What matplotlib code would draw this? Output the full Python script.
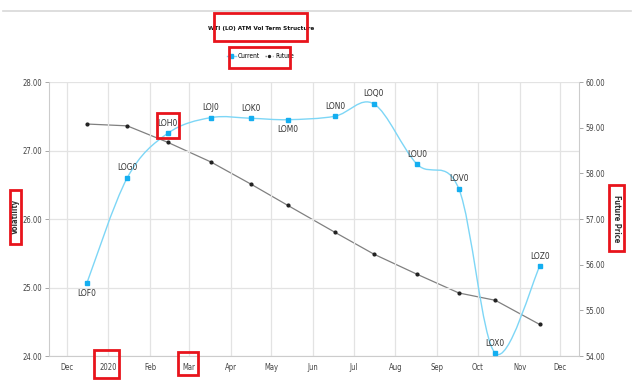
import numpy as np
import matplotlib
matplotlib.use("Agg")
import matplotlib.pyplot as plt
import matplotlib.dates as mdates
from matplotlib.path import Path
from matplotlib.patches import PathPatch, Rectangle
from matplotlib.lines import Line2D
import datetime as dt

# ---------------------------------------------------------
# Data
# ---------------------------------------------------------
contracts = ["LOF0", "LOG0", "LOH0", "LOJ0", "LOK0", "LOM0",
             "LON0", "LOQ0", "LOU0", "LOV0", "LOX0", "LOZ0"]
dates = ["2019-12-16", "2020-01-15", "2020-02-14", "2020-03-17",
         "2020-04-16", "2020-05-13", "2020-06-17", "2020-07-16",
         "2020-08-17", "2020-09-17", "2020-10-14", "2020-11-16"]
current_vol = [25.06, 26.60, 27.25, 27.48, 27.47, 27.45,
               27.50, 27.68, 26.80, 26.44, 24.04, 25.31]
future_price = [59.08, 59.04, 58.68, 58.25, 57.76, 57.30,
                56.71, 56.23, 55.79, 55.38, 55.22, 54.69]
label_below = ["LOF0", "LOM0"]

vol_ticks = [24, 25, 26, 27, 28]
price_ticks = [54, 55, 56, 57, 58, 59, 60]

plt.rcParams['font.family'] = ['DejaVu Sans']
plt.rcParams['font.stretch'] = 'condensed'

x = mdates.date2num([dt.datetime.strptime(d, "%Y-%m-%d") for d in dates])

fig = plt.figure(figsize=(6.34, 3.87), dpi=100)
ax = fig.add_axes([0.0773, 0.0801, 0.8357, 0.708])
ax2 = ax.twinx()

# ---------------------------------------------------------
# Future price (right axis)
# ---------------------------------------------------------
ax2.plot(x, future_price, color="#808080", lw=0.9, zorder=2)
ax2.plot(x, future_price, ls="none", marker="o", ms=2, color="#222222", zorder=3)
ax2.set_ylim(54, 60)
ax2.set_yticks(price_ticks)
ax2.set_yticklabels(["%.2f" % v for v in price_ticks])

# ---------------------------------------------------------
# Current vol (left axis), smooth Catmull-Rom curve
# ---------------------------------------------------------
ax.set_zorder(ax2.get_zorder() + 1)
ax.patch.set_visible(False)
pts = np.column_stack([x, current_vol])
ext = np.vstack([pts[0], pts, pts[-1]])
verts = [tuple(pts[0])]
codes = [Path.MOVETO]
for i in range(1, len(ext) - 2):
    p0, p1, p2, p3 = ext[i - 1], ext[i], ext[i + 1], ext[i + 2]
    c1 = p1 + (p2 - p0) / 6.0
    c2 = p2 - (p3 - p1) / 6.0
    verts += [tuple(c1), tuple(c2), tuple(p2)]
    codes += [Path.CURVE4] * 3
ax.add_patch(PathPatch(Path(verts, codes), facecolor="none",
                       edgecolor="#7dd6f6", lw=1.0, zorder=3))
ax.plot(x, current_vol, ls="none", marker="s", ms=3.2, color="#14aef0", zorder=4)

for xi, yi, name in zip(x, current_vol, contracts):
    if name in label_below:
        ax.annotate(name, (xi, yi), xytext=(0, -4), textcoords="offset points",
                    ha="center", va="top", fontsize=6, color="#333333")
    else:
        ax.annotate(name, (xi, yi), xytext=(0, 4), textcoords="offset points",
                    ha="center", va="bottom", fontsize=6, color="#333333")

ax.set_ylim(24, 28)
ax.set_yticks(vol_ticks)
ax.set_yticklabels(["%.2f" % v for v in vol_ticks])
ax.set_xlim(mdates.date2num(dt.datetime(2019, 11, 18)),
            mdates.date2num(dt.datetime(2020, 12, 15)))
ax.xaxis.set_major_locator(mdates.MonthLocator())
ax.xaxis.set_major_formatter(mdates.ConciseDateFormatter(ax.xaxis.get_major_locator(),
                                                         formats=['%Y', '%b', '%d', '%H:%M', '%H:%M', '%S.%f']))
ax.xaxis.get_offset_text().set_visible(False)

ax.grid(True, color="#e3e3e3", lw=0.9)
ax.set_axisbelow(True)
for a in (ax, ax2):
    for s in a.spines.values():
        s.set_visible(False)
    a.tick_params(labelsize=5.5, colors="#444444", length=3, width=0.6, pad=2)
    a.tick_params(color="#999999")
ax.spines["left"].set_visible(True)
ax.spines["left"].set_color("#cccccc")
ax.spines["bottom"].set_visible(True)
ax.spines["bottom"].set_color("#cccccc")
ax2.spines["right"].set_visible(True)
ax2.spines["right"].set_color("#cccccc")
ax.tick_params(axis="x", length=0, pad=5)

# ---------------------------------------------------------
# Titles, labels, legend
# ---------------------------------------------------------
fig.text(0.412, 0.927, "WTI (LO) ATM Vol Term Structure", ha="center", va="center",
         fontsize=4.6, fontweight="bold", color="#111111")
fig.text(0.025, 0.44, "Volatility", rotation=90, ha="center", va="center",
         fontsize=5.5, fontweight="bold", color="#333333")
fig.text(0.972, 0.435, "Future Price", rotation=-90, ha="center", va="center",
         fontsize=5.5, fontweight="bold", color="#333333")

handles = [Line2D([], [], color="#7dd6f6", marker="s", ms=2.6, mfc="#14aef0", mec="#14aef0", lw=1),
           Line2D([], [], color="#808080", ls=":", marker="o", ms=1.4, mfc="#222222", mec="#222222", lw=1)]
fig.legend(handles, ["Current", "Future"], loc="center", bbox_to_anchor=(0.411, 0.855),
           ncol=2, frameon=False, fontsize=4.8, handlelength=1.3, columnspacing=0.7,
           handletextpad=0.3, borderpad=0.1)

# top separator line
fig.add_artist(Line2D([0.005, 0.995], [0.972, 0.972], transform=fig.transFigure,
                      color="#d8d8d8", lw=1.2))

# red highlight boxes (pixel coords of the 634x387 canvas)
boxes = [(214, 13, 93, 28), (229, 47, 61, 21), (10, 190, 11, 54),
         (609, 185, 15, 66), (94, 350, 25, 28), (178, 352, 20, 23),
         (157, 113, 22, 25)]
W, H = 634.0, 387.0
for bx, by, bw, bh in boxes:
    fig.add_artist(Rectangle((bx / W, 1 - (by + bh) / H), bw / W, bh / H,
                             transform=fig.transFigure, fill=False,
                             edgecolor="#e8141c", lw=2.0, zorder=10))

fig.savefig("out.png", dpi=100)
